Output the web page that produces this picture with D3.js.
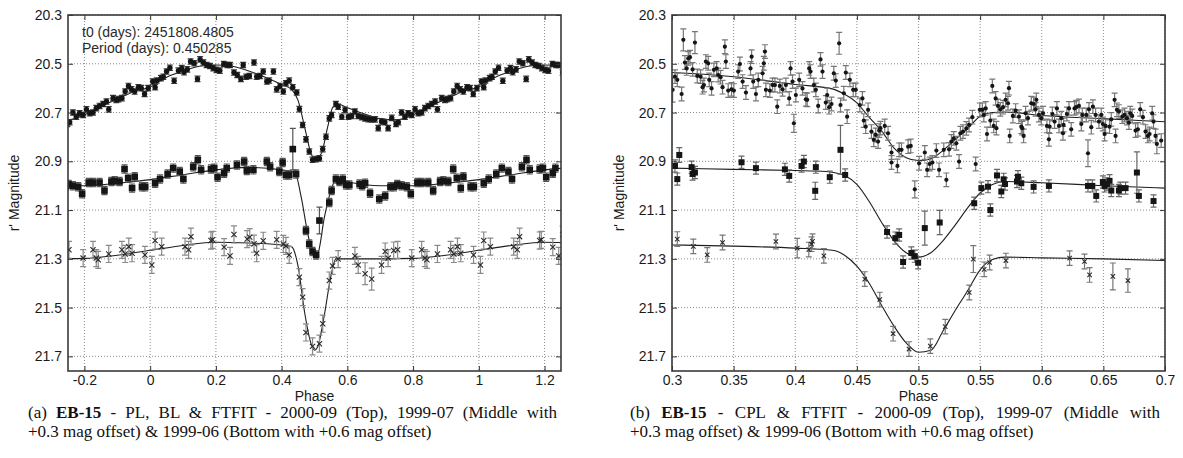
<!DOCTYPE html>
<html>
<head>
<meta charset="utf-8">
<script src="https://cdn.jsdelivr.net/npm/d3@7"></script>
<style>
body { margin: 0; background: #fff; }
svg { display: block; font-family: "Liberation Sans", Arial, sans-serif; }
</style>
</head>
<body>
<div id="chart"></div>
<script>
//Axis ticks and labels
var magTicks = [20.3, 20.5, 20.7, 20.9, 21.1, 21.3, 21.5, 21.7];
var magLabels = ["20.3", "20.5", "20.7", "20.9", "21.1", "21.3", "21.5", "21.7"];
var phaseTicksA = [-0.2, 0, 0.2, 0.4, 0.6, 0.8, 1, 1.2];
var phaseLabelsA = ["-0.2", "0", "0.2", "0.4", "0.6", "0.8", "1", "1.2"];
var phaseTicksB = [0.3, 0.35, 0.4, 0.45, 0.5, 0.55, 0.6, 0.65, 0.7];
var phaseLabelsB = ["0.3", "0.35", "0.4", "0.45", "0.5", "0.55", "0.6", "0.65", "0.7"];

//Panel (a): folded light curves, one cycle [phase, mag, (err)]
var plTop = [[0.008,20.573],[0.015,20.596],[0.020,20.569],[0.033,20.559],[0.040,20.553],[0.050,20.532],[0.060,20.516],[0.073,20.570],[0.086,20.528],[0.096,20.518],[0.103,20.535],[0.113,20.523],[0.123,20.491],[0.134,20.498],[0.144,20.562],[0.152,20.482],[0.162,20.495],[0.172,20.505],[0.182,20.509],[0.192,20.518],[0.202,20.525],[0.212,20.528],[0.224,20.501],[0.235,20.505],[0.243,20.505],[0.255,20.536],[0.265,20.546],[0.276,20.562],[0.283,20.505],[0.292,20.553],[0.302,20.550],[0.316,20.495],[0.324,20.553],[0.334,20.550],[0.344,20.532],[0.355,20.573],[0.362,20.569],[0.375,20.532],[0.385,20.605],[0.395,20.591],[0.405,20.614],[0.413,20.580],[0.423,20.569],[0.434,20.596],[0.446,20.618],[0.454,20.686],[0.464,20.751],[0.474,20.810],[0.484,20.860],[0.494,20.894],[0.505,20.891],[0.515,20.888],[0.525,20.850],[0.535,20.799],[0.545,20.724],[0.552,20.710],[0.565,20.665],[0.572,20.676],[0.583,20.717],[0.593,20.689],[0.603,20.717],[0.613,20.714],[0.623,20.696],[0.633,20.714],[0.644,20.719],[0.654,20.724],[0.664,20.727],[0.674,20.728],[0.684,20.728],[0.694,20.764],[0.704,20.737],[0.714,20.740],[0.724,20.764],[0.735,20.722],[0.748,20.747],[0.755,20.740],[0.765,20.700],[0.775,20.717],[0.785,20.703],[0.796,20.710],[0.806,20.687],[0.816,20.703],[0.826,20.700],[0.836,20.682],[0.846,20.673],[0.857,20.665],[0.867,20.655],[0.874,20.687],[0.887,20.641],[0.897,20.648],[0.904,20.645],[0.914,20.641],[0.924,20.614],[0.934,20.591],[0.943,20.605],[0.953,20.614],[0.964,20.596],[0.973,20.600],[0.983,20.624],[0.994,20.600]];
var plMid = [[0.015,20.990],[0.030,20.973],[0.053,20.952],[0.070,20.928],[0.090,20.942],[0.101,20.973],[0.131,20.922],[0.145,20.894],[0.155,20.935],[0.185,20.932],[0.195,20.928],[0.205,20.965],[0.225,20.949],[0.233,20.928],[0.264,20.915],[0.286,20.901],[0.294,20.938],[0.314,20.935],[0.355,20.901],[0.365,20.922],[0.393,20.942],[0.403,20.905],[0.413,20.956],[0.423,20.956],[0.434,20.850,0.085],[0.444,20.952],[0.474,21.184],[0.484,21.239],[0.494,21.270],[0.505,21.284],[0.515,21.143,0.055],[0.545,21.069],[0.552,21.020],[0.565,20.973],[0.576,20.983],[0.586,20.973],[0.596,20.997],[0.606,20.997],[0.637,20.993],[0.645,21.000],[0.654,20.990],[0.669,21.031],[0.697,21.055],[0.715,21.042],[0.731,21.004],[0.742,21.004],[0.752,20.995],[0.765,21.000],[0.781,21.004],[0.793,21.033],[0.813,20.987],[0.826,20.987],[0.846,20.987],[0.861,21.020],[0.882,20.983],[0.892,20.980],[0.907,20.983],[0.922,20.932],[0.933,20.969],[0.945,21.010],[0.953,20.963],[0.975,21.004],[0.985,21.004]];
var plBot = [[0.005,21.325],[0.015,21.225],[0.035,21.250],[0.106,21.250],[0.117,21.263],[0.124,21.209],[0.185,21.225],[0.190,21.222],[0.225,21.252],[0.243,21.288],[0.255,21.200],[0.295,21.219],[0.303,21.211],[0.316,21.238],[0.324,21.277],[0.344,21.226],[0.385,21.222],[0.405,21.239],[0.413,21.247],[0.423,21.284],[0.454,21.375],[0.464,21.457],[0.474,21.602],[0.494,21.659],[0.515,21.648],[0.525,21.566],[0.545,21.389],[0.555,21.329],[0.572,21.301],[0.623,21.288],[0.633,21.325],[0.654,21.361,0.045],[0.674,21.383,0.045],[0.704,21.325],[0.715,21.270],[0.724,21.297],[0.741,21.266],[0.753,21.263],[0.796,21.297],[0.826,21.263],[0.836,21.297],[0.842,21.304],[0.874,21.280],[0.914,21.263],[0.924,21.280],[0.935,21.250],[0.945,21.277],[0.984,21.284]];

//Panel (a): FTFIT curves, one cycle [phase, mag]
var plTopFit = [[0.00,20.595],[0.05,20.555],[0.10,20.530],[0.15,20.510],[0.20,20.505],[0.25,20.510],[0.30,20.530],[0.35,20.555],[0.40,20.585],[0.43,20.605],[0.45,20.650],[0.47,20.760],[0.49,20.870],[0.50,20.890],[0.52,20.870],[0.54,20.760],[0.555,20.680],[0.57,20.665],[0.60,20.680],[0.65,20.705],[0.70,20.725],[0.75,20.730],[0.80,20.710],[0.85,20.675],[0.90,20.645],[0.95,20.615]];
var plMidFit = [[0.00,20.975],[0.10,20.955],[0.20,20.935],[0.30,20.925],[0.40,20.935],[0.44,20.945],[0.46,21.050],[0.48,21.200],[0.50,21.290],[0.51,21.280],[0.53,21.130],[0.55,21.020],[0.565,20.975],[0.60,20.985],[0.70,21.000],[0.80,21.000],[0.90,20.990]];
var plBotFit = [[0.00,21.265],[0.10,21.245],[0.20,21.232],[0.30,21.235],[0.40,21.243],[0.43,21.250],[0.45,21.330],[0.47,21.520],[0.49,21.650],[0.50,21.675],[0.51,21.660],[0.53,21.530],[0.55,21.370],[0.565,21.300],[0.60,21.300],[0.70,21.300],[0.80,21.298],[0.90,21.285]];

//Panel (b): CPL light curves [phase, mag, (err)]
var cplTop = [[0.3005,20.607,0.05],[0.3024,20.553],[0.3043,20.566],[0.3078,20.624],[0.3092,20.402,0.045],[0.3105,20.495],[0.3119,20.519],[0.3132,20.478],[0.3146,20.473],[0.3167,20.523],[0.3186,20.413,0.045],[0.3205,20.550],[0.3232,20.553],[0.3248,20.596],[0.3259,20.587],[0.3275,20.491],[0.3294,20.498],[0.3302,20.566],[0.3321,20.601],[0.3340,20.525],[0.3362,20.519],[0.3375,20.546],[0.3394,20.555],[0.3410,20.596],[0.3429,20.430],[0.3437,20.491],[0.3456,20.610],[0.3483,20.605],[0.3502,20.610],[0.3537,20.532],[0.3551,20.501],[0.3573,20.573],[0.3600,20.618],[0.3637,20.519],[0.3646,20.471],[0.3659,20.573],[0.3681,20.624],[0.3700,20.566],[0.3735,20.539],[0.3745,20.498],[0.3754,20.450],[0.3762,20.607],[0.3794,20.610],[0.3816,20.587],[0.3835,20.587],[0.3854,20.676],[0.3875,20.591],[0.3897,20.605],[0.3924,20.587],[0.3951,20.642],[0.3962,20.519],[0.3978,20.573],[0.3989,20.744,0.037],[0.4005,20.628],[0.4032,20.566],[0.4059,20.601],[0.4086,20.646],[0.4097,20.648],[0.4113,20.519],[0.4124,20.532],[0.4151,20.587],[0.4167,20.607],[0.4186,20.673],[0.4205,20.482],[0.4221,20.532],[0.4248,20.659],[0.4259,20.628],[0.4275,20.678],[0.4294,20.665],[0.4313,20.539],[0.4329,20.569],[0.4356,20.416,0.045],[0.4367,20.669],[0.4394,20.621],[0.4410,20.536],[0.4421,20.717],[0.4443,20.566],[0.4470,20.607],[0.4491,20.607],[0.4524,20.669],[0.4545,20.642],[0.4556,20.733],[0.4572,20.758],[0.4591,20.689],[0.4618,20.778],[0.4637,20.812],[0.4653,20.792],[0.4672,20.819],[0.4681,20.774],[0.4691,20.764],[0.4726,20.755],[0.4753,20.785],[0.4781,20.864],[0.4781,20.905],[0.4829,20.919],[0.4843,20.853],[0.4862,20.853],[0.4916,20.840],[0.4937,20.837],[0.4970,21.015,0.035],[0.5005,20.908],[0.5051,20.864],[0.5070,20.935],[0.5091,20.911],[0.5113,20.905],[0.5145,20.856],[0.5167,20.935],[0.5205,20.853],[0.5226,20.976],[0.5248,20.851],[0.5267,20.819],[0.5286,20.806],[0.5307,20.826],[0.5329,20.901],[0.5340,20.785],[0.5361,20.778],[0.5388,20.765],[0.5410,20.751],[0.5437,20.719],[0.5464,20.911],[0.5497,20.689],[0.5518,20.689],[0.5530,20.710],[0.5545,20.683],[0.5556,20.788],[0.5583,20.733],[0.5599,20.591],[0.5610,20.755],[0.5626,20.642],[0.5632,20.764],[0.5645,20.673],[0.5664,20.687],[0.5686,20.678],[0.5707,20.648],[0.5726,20.662],[0.5734,20.600],[0.5740,20.796],[0.5766,20.714],[0.5788,20.692],[0.5815,20.717],[0.5834,20.758],[0.5842,20.764],[0.5853,20.796],[0.5869,20.703],[0.5888,20.723],[0.5915,20.662],[0.5934,20.665],[0.5950,20.687],[0.5956,20.648],[0.5977,20.710],[0.5996,20.723],[0.6010,20.703],[0.6042,20.755],[0.6058,20.810],[0.6064,20.758],[0.6086,20.706],[0.6104,20.737],[0.6123,20.683],[0.6140,20.755],[0.6158,20.723],[0.6172,20.785],[0.6177,20.751],[0.6204,20.706],[0.6221,20.683],[0.6239,20.769],[0.6266,20.683],[0.6280,20.678],[0.6302,20.673],[0.6321,20.747],[0.6329,20.710],[0.6361,20.710],[0.6375,20.867,0.055],[0.6383,20.687],[0.6402,20.760],[0.6415,20.676],[0.6437,20.710],[0.6464,20.737],[0.6483,20.710],[0.6496,20.747],[0.6510,20.788],[0.6518,20.755],[0.6550,20.758],[0.6564,20.728],[0.6591,20.648],[0.6599,20.796],[0.6610,20.689],[0.6626,20.696],[0.6653,20.717],[0.6672,20.710],[0.6691,20.723],[0.6707,20.741],[0.6718,20.703],[0.6734,20.714],[0.6761,20.774],[0.6780,20.769],[0.6799,20.687],[0.6821,20.719],[0.6842,20.778],[0.6861,20.796],[0.6875,20.788],[0.6896,20.703],[0.6907,20.737],[0.6923,20.796],[0.6934,20.829,0.04],[0.6969,20.815]];
var cplMid = [[0.3024,20.919],[0.3043,20.973],[0.3059,20.874,0.03],[0.3159,20.924],[0.3167,20.952],[0.3186,20.946],[0.3564,20.904],[0.3681,20.928],[0.3916,20.933],[0.3951,20.960],[0.4051,20.919],[0.4070,20.901],[0.4162,21.021,0.035],[0.4167,20.924],[0.4280,20.965],[0.4367,20.853,0.1],[0.4405,20.956],[0.4745,21.190],[0.4812,21.215],[0.4843,21.202],[0.4875,21.313],[0.4942,21.276],[0.4970,21.289],[0.4997,21.316],[0.5051,21.174,0.07],[0.5172,21.151,0.05],[0.5452,21.072],[0.5510,21.010],[0.5564,21.004],[0.5583,21.100],[0.5637,20.958],[0.5672,21.024],[0.5691,20.974],[0.5702,20.993],[0.5799,20.983],[0.5807,20.963],[0.5834,20.990],[0.5934,21.005],[0.6058,21.001],[0.6375,21.001],[0.6410,21.001],[0.6442,21.042],[0.6496,20.985],[0.6510,21.001],[0.6529,20.993],[0.6550,20.980],[0.6564,21.020],[0.6626,21.020],[0.6637,21.010],[0.6680,21.010],[0.6772,20.946,0.085],[0.6788,21.042],[0.6907,21.063]];
var cplBot = [[0.3043,21.219],[0.3173,21.249],[0.3286,21.284],[0.3410,21.233],[0.3843,21.229],[0.4016,21.256,0.04],[0.4110,21.262],[0.4132,21.240],[0.4140,21.228],[0.4232,21.288],[0.4564,21.383],[0.4686,21.467],[0.4794,21.607],[0.4923,21.670],[0.5096,21.658],[0.5217,21.578],[0.5412,21.438],[0.5445,21.301,0.055],[0.5533,21.343],[0.5577,21.315],[0.5709,21.307],[0.6226,21.297],[0.6347,21.311],[0.6388,21.366],[0.6577,21.372,0.055],[0.6699,21.389,0.048]];

//Panel (b): FTFIT curves [phase, mag]
var cplTopFit = [[0.30,20.536],[0.35,20.553],[0.40,20.585],[0.43,20.603],[0.44,20.625],[0.45,20.660],[0.46,20.720],[0.47,20.775],[0.48,20.845],[0.49,20.885],[0.50,20.897],[0.51,20.890],[0.52,20.855],[0.53,20.810],[0.54,20.765],[0.55,20.715],[0.56,20.700],[0.57,20.698],[0.60,20.712],[0.65,20.725],[0.70,20.738]];
var cplMidFit = [[0.30,20.928],[0.35,20.933],[0.40,20.938],[0.425,20.942],[0.435,20.950],[0.44,20.958],[0.45,20.995],[0.46,21.065],[0.47,21.150],[0.48,21.225],[0.49,21.275],[0.50,21.293],[0.51,21.275],[0.52,21.225],[0.53,21.160],[0.54,21.090],[0.55,21.030],[0.56,20.995],[0.57,20.983],[0.60,20.988],[0.65,21.000],[0.70,21.010]];
var cplBotFit = [[0.30,21.243],[0.35,21.248],[0.40,21.256],[0.43,21.265],[0.44,21.285],[0.45,21.330],[0.46,21.400],[0.47,21.490],[0.48,21.575],[0.49,21.645],[0.50,21.683],[0.51,21.675],[0.52,21.595],[0.53,21.510],[0.54,21.430],[0.55,21.345],[0.56,21.303],[0.57,21.293],[0.60,21.296],[0.65,21.300],[0.70,21.307]];

var magDomain = [20.3, 21.76];

var svg = d3.select('#chart').append('svg')
    .attr('width', 1183)
    .attr('height', 458);

//repeat one folded cycle so the window -0.25..1.25 is filled
function unfold(rows, lo, hi) {
    var out = [];
    [-1, 0, 1].forEach(function(k) {
        rows.forEach(function(r) {
            var p = r[0] + k;
            if (p >= lo && p <= hi) out.push([p, r[1], r[2]]);
        });
    });
    return out.sort(function(a, b) { return a[0] - b[0]; });
}

function drawPanel(p) {
    var x_scale = d3.scaleLinear().domain(p.xDomain).range([0, p.width]);
    var y_scale = d3.scaleLinear().domain(magDomain).range([0, p.height]);

    var g = svg.append("g")
        .attr("transform", "translate(" + p.left + "," + p.top + ")");

    g.append("clipPath").attr("id", p.id + "clip")
        .append("rect").attr("width", p.width).attr("height", p.height);

    //dotted grid
    g.selectAll(".vgrid").data(p.xTicks).enter().append("line")
        .attr("x1", function(d) { return x_scale(d); })
        .attr("x2", function(d) { return x_scale(d); })
        .attr("y1", 0).attr("y2", p.height)
        .style("stroke", "#8c8c8c").style("stroke-dasharray", "1,2");
    g.selectAll(".hgrid").data(magTicks).enter().append("line")
        .attr("y1", function(d) { return y_scale(d); })
        .attr("y2", function(d) { return y_scale(d); })
        .attr("x1", 0).attr("x2", p.width)
        .style("stroke", "#8c8c8c").style("stroke-dasharray", "1,2");

    var plot = g.append("g").attr("clip-path", "url(#" + p.id + "clip)");

    var line = d3.line()
        .x(function(d) { return x_scale(d[0]); })
        .y(function(d) { return y_scale(d[1]); })
        .curve(d3.curveMonotoneX);

    p.series.forEach(function(s) {
        //fit curve
        plot.append("path")
            .datum(s.fit)
            .attr("d", line)
            .style("fill", "none")
            .style("stroke", "#1e1e1e")
            .style("stroke-width", 1.1);

        //error bars with caps
        var cw = s.cap;
        plot.selectAll(null).data(s.rows).enter().append("path")
            .attr("d", function(d) {
                var e = d[2] || s.err;
                var xx = x_scale(d[0]), y1 = y_scale(d[1] - e), y2 = y_scale(d[1] + e);
                return "M" + xx + "," + y1 + "V" + y2 +
                    "M" + (xx - cw) + "," + y1 + "H" + (xx + cw) +
                    "M" + (xx - cw) + "," + y2 + "H" + (xx + cw);
            })
            .style("fill", "none")
            .style("stroke", s.errColor)
            .style("stroke-width", 1.2);

        //markers
        var m = plot.selectAll(null).data(s.rows).enter();
        if (s.marker == "circle") {
            m.append("circle")
                .attr("cx", function(d) { return x_scale(d[0]); })
                .attr("cy", function(d) { return y_scale(d[1]); })
                .attr("r", s.size)
                .style("fill", "#151515");
        } else if (s.marker == "square") {
            m.append("rect")
                .attr("x", function(d) { return x_scale(d[0]) - s.size; })
                .attr("y", function(d) { return y_scale(d[1]) - s.size; })
                .attr("width", s.size * 2)
                .attr("height", s.size * 2)
                .style("fill", "#151515");
        } else {
            m.append("path")
                .attr("d", function(d) {
                    var xx = x_scale(d[0]), yy = y_scale(d[1]), k = s.size;
                    return "M" + (xx - k) + "," + (yy - k) + "L" + (xx + k) + "," + (yy + k) +
                        "M" + (xx - k) + "," + (yy + k) + "L" + (xx + k) + "," + (yy - k);
                })
                .style("stroke", "#2a2a2a")
                .style("stroke-width", 1.1)
                .style("fill", "none");
        }
    });

    //axes, ticks pointing inward and mirrored
    g.append("g").attr("transform", "translate(0," + p.height + ")")
        .call(d3.axisBottom(x_scale).tickValues(p.xTicks)
            .tickFormat(function(d, i) { return p.xLabels[i]; })
            .tickSize(-5).tickPadding(4));
    g.append("g")
        .call(d3.axisLeft(y_scale).tickValues(magTicks)
            .tickFormat(function(d, i) { return magLabels[i]; })
            .tickSize(-5).tickPadding(6));
    g.append("g")
        .call(d3.axisTop(x_scale).tickValues(p.xTicks).tickFormat("").tickSize(-5));
    g.append("g").attr("transform", "translate(" + p.width + ",0)")
        .call(d3.axisRight(y_scale).tickValues(magTicks).tickFormat("").tickSize(-5));

    g.selectAll(".domain").remove();
    g.selectAll(".tick line").style("stroke", "#333");
    g.selectAll(".tick text")
        .style("font-size", "14px")
        .style("font-family", "'Liberation Sans', Arial, sans-serif")
        .style("fill", "#1a1a1a");

    g.append("rect")
        .attr("width", p.width).attr("height", p.height)
        .style("fill", "none").style("stroke", "#3a3a3a").style("stroke-width", 1.6);

    //Y Axis Label
    g.append("text")
        .attr("text-anchor", "middle")
        .attr("transform", "translate(" + p.yLabelX + "," + (p.height / 2) + ")rotate(-90)")
        .attr("dy", "0.35em")
        .style("font-size", "14px")
        .style("fill", "#1a1a1a")
        .text("r' Magnitude");

    //X Axis Label
    g.append("text")
        .attr("text-anchor", "middle")
        .attr("x", p.width / 2)
        .attr("y", p.height + 30)
        .style("font-size", "14px")
        .style("fill", "#1a1a1a")
        .text("Phase");

    if (p.note) {
        p.note.forEach(function(t, i) {
            g.append("text")
                .attr("x", 14)
                .attr("y", 22 + i * 16)
                .style("font-size", "14px")
                .style("fill", "#2a2a2a")
                .text(t);
        });
    }

    //Caption, first line justified by widening the word gaps
    var cap = svg.append("text")
        .attr("x", p.capX)
        .attr("y", 418)
        .style("font-family", "'Liberation Serif', 'Times New Roman', serif")
        .style("font-size", "17px")
        .style("fill", "#111");
    cap.append("tspan").text(p.caption[0]);
    cap.append("tspan").style("font-weight", "bold").text("EB-15");
    cap.append("tspan").text(p.caption[1]);
    var natural = cap.node().getComputedTextLength();
    var gaps = (p.caption[0] + "EB-15" + p.caption[1]).split(" ").length - 1;
    cap.style("word-spacing", ((p.capWidth - natural) / gaps) + "px");

    svg.append("text")
        .attr("x", p.capX)
        .attr("y", 437)
        .style("font-family", "'Liberation Serif', 'Times New Roman', serif")
        .style("font-size", "17px")
        .style("fill", "#111")
        .text(p.caption[2]);
}

drawPanel({
    id: "pa", left: 68, top: 15, width: 493, height: 356,
    xDomain: [-0.25, 1.25], xTicks: phaseTicksA, xLabels: phaseLabelsA, yLabelX: -54,
    note: ["t0 (days): 2451808.4805", "Period (days): 0.450285"],
    capX: 28, capWidth: 529,
    caption: ["(a) ", " - PL, BL & FTFIT - 2000-09 (Top), 1999-07 (Middle with", "+0.3 mag offset) & 1999-06 (Bottom with +0.6 mag offset)"],
    series: [
        {rows: unfold(plTop, -0.27, 1.27), fit: unfold(plTopFit, -0.35, 1.35), marker: "circle", size: 2.7, err: 0.011, cap: 3, errColor: "#3a3a3a"},
        {rows: unfold(plMid, -0.27, 1.27), fit: unfold(plMidFit, -0.35, 1.35), marker: "square", size: 3.3, err: 0.017, cap: 3, errColor: "#555"},
        {rows: unfold(plBot, -0.27, 1.27), fit: unfold(plBotFit, -0.35, 1.35), marker: "x", size: 2.6, err: 0.035, cap: 3, errColor: "#8a8a8a"}
    ]
});

drawPanel({
    id: "pb", left: 672, top: 15, width: 493, height: 356,
    xDomain: [0.3, 0.7], xTicks: phaseTicksB, xLabels: phaseLabelsB, yLabelX: -53,
    capX: 630, capWidth: 530,
    caption: ["(b) ", " - CPL & FTFIT - 2000-09 (Top), 1999-07 (Middle with", "+0.3 mag offset) & 1999-06 (Bottom with +0.6 mag offset)"],
    series: [
        {rows: cplTop, fit: cplTopFit, marker: "circle", size: 2.1, err: 0.028, cap: 3, errColor: "#777"},
        {rows: cplMid, fit: cplMidFit, marker: "square", size: 3, err: 0.025, cap: 3, errColor: "#666"},
        {rows: cplBot, fit: cplBotFit, marker: "x", size: 2.2, err: 0.03, cap: 3, errColor: "#777"}
    ]
});
</script>
</body>
</html>
